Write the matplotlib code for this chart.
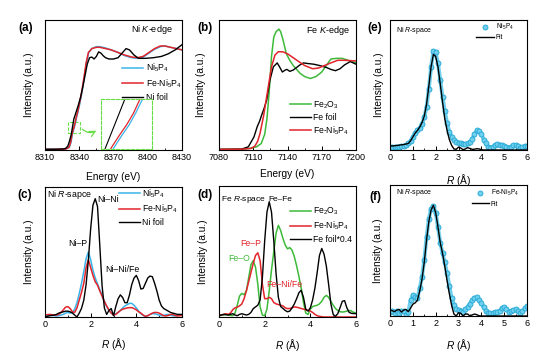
import numpy as np
import matplotlib
matplotlib.use("Agg")
import matplotlib.pyplot as plt
from matplotlib.patches import Rectangle
from matplotlib.ticker import MultipleLocator

plt.rcParams['font.family'] = ['Liberation Sans', 'DejaVu Sans']
plt.rcParams['mathtext.fontset'] = 'custom'
plt.rcParams['mathtext.rm'] = 'Liberation Sans'
plt.rcParams['mathtext.it'] = 'Liberation Sans:italic'

# === colours ===
BLUE = '#39b4ea'
RED = '#e2242b'
GREEN = '#3dba3a'
CYAN_FACE = '#6fd0ee'
CYAN_EDGE = '#22a6d4'

# === (a) Ni K-edge XANES ===
E_nifoil = [8310, 8320, 8326, 8328, 8330, 8331.5, 8333, 8335.3, 8337, 8339, 8341, 8343, 8345, 8347, 8349,
            8351, 8353, 8355, 8357, 8359, 8361, 8363, 8366, 8370, 8374, 8378, 8381, 8384, 8388, 8392,
            8398, 8405, 8412, 8418, 8424, 8430]
I_nifoil = [0.005, 0.006, 0.008, 0.012, 0.03, 0.07, 0.12, 0.24, 0.285, 0.34, 0.40, 0.48, 0.57, 0.66, 0.71,
            0.715, 0.70, 0.72, 0.755, 0.745, 0.725, 0.71, 0.70, 0.70, 0.71, 0.75, 0.78, 0.77, 0.73, 0.705,
            0.705, 0.71, 0.72, 0.74, 0.77, 0.81]
E_feni_a = [8310, 8320, 8328, 8331, 8332.5, 8333.7, 8334.7, 8335.5, 8336.3, 8337.1, 8338.5, 8340, 8342, 8344,
            8346, 8348, 8351, 8355, 8358, 8363, 8368, 8374, 8380, 8386, 8391, 8396, 8401, 8406, 8411, 8415,
            8420, 8425, 8430]
I_feni_a = [0.005, 0.005, 0.007, 0.02, 0.06, 0.122, 0.154, 0.178, 0.206, 0.242, 0.29, 0.35, 0.44, 0.55,
            0.67, 0.75, 0.78, 0.79, 0.79, 0.78, 0.77, 0.75, 0.73, 0.715, 0.71, 0.72, 0.75, 0.78, 0.80, 0.80,
            0.79, 0.78, 0.77]
E_ni5p4_a = [8310, 8320, 8328, 8331.3, 8332.8, 8334.0, 8335.0, 8335.8, 8336.55, 8337.4, 8338.8, 8340.3, 8342.3,
             8344.3, 8346.3, 8348.3, 8351, 8355, 8358, 8363, 8368, 8374, 8380, 8386, 8391, 8396, 8401, 8406,
             8411, 8415, 8420, 8425, 8430]
I_ni5p4_a = [0.005, 0.005, 0.007, 0.02, 0.06, 0.122, 0.154, 0.178, 0.206, 0.242, 0.29, 0.35, 0.44, 0.55,
             0.67, 0.75, 0.78, 0.795, 0.795, 0.785, 0.77, 0.75, 0.725, 0.71, 0.705, 0.715, 0.745, 0.775,
             0.795, 0.80, 0.79, 0.78, 0.77]

# === (b) Fe K-edge XANES ===
E_fe2o3 = [7080, 7100, 7107, 7113, 7117, 7120, 7122, 7124, 7126, 7128, 7130, 7132.5, 7134, 7136, 7139,
           7142, 7145, 7148, 7151, 7155, 7160, 7165, 7170, 7174, 7178, 7183, 7188, 7193, 7200]
I_fe2o3 = [0.005, 0.006, 0.013, 0.025, 0.05, 0.12, 0.24, 0.45, 0.72, 0.87, 0.91, 0.93, 0.91, 0.85, 0.74,
           0.69, 0.65, 0.62, 0.59, 0.565, 0.55, 0.565, 0.60, 0.65, 0.70, 0.705, 0.705, 0.69, 0.67]
E_fefoil = [7080, 7100, 7105.7, 7108, 7110.6, 7113.5, 7115.5, 7117.4, 7119.5, 7121.8, 7124.7, 7127.6, 7131,
            7133, 7135.5, 7138, 7139.5, 7142, 7145, 7148, 7151, 7154, 7158, 7163, 7168, 7174, 7178, 7182,
            7186, 7190, 7195, 7200]
I_fefoil = [0.005, 0.007, 0.025, 0.06, 0.10, 0.18, 0.22, 0.27, 0.32, 0.385, 0.54, 0.64, 0.67,
            0.64, 0.60, 0.615, 0.62, 0.605, 0.615, 0.635, 0.655, 0.67, 0.665, 0.66, 0.65, 0.635, 0.62, 0.61,
            0.625, 0.655, 0.68, 0.66]
E_feni_b = [7080, 7100, 7108, 7111.5, 7114, 7116, 7119, 7122.3, 7126, 7129, 7132, 7136, 7140, 7145, 7149,
            7155, 7162, 7167, 7172.5, 7178, 7184, 7190, 7200]
I_feni_b = [0.005, 0.006, 0.012, 0.03, 0.07, 0.13, 0.26, 0.44, 0.64, 0.73, 0.756, 0.755, 0.74, 0.71, 0.685,
            0.65, 0.625, 0.63, 0.65, 0.67, 0.69, 0.69, 0.685]

# === R-space, common R grid (Å) ===
R = [round(0.1 * i, 1) for i in range(61)]

# (c) Ni R-space
c_ni5p4 = [0.01, 0.01, 0.012, 0.012, 0.01, 0.008, 0.01, 0.015, 0.02, 0.03,
           0.035, 0.03, 0.035, 0.06, 0.11, 0.18, 0.26, 0.35, 0.45, 0.50,
           0.44, 0.36, 0.30, 0.255, 0.21, 0.17, 0.12, 0.08, 0.05, 0.03,
           0.02, 0.025, 0.035, 0.05, 0.07, 0.085, 0.095, 0.105, 0.105, 0.09,
           0.07, 0.045, 0.025, 0.012, 0.005, 0.01, 0.02, 0.025, 0.025, 0.02,
           0.015, 0.01, 0.012, 0.018, 0.02, 0.015, 0.01, 0.008, 0.012, 0.015, 0.015]
c_feni = [0.015, 0.018, 0.02, 0.018, 0.015, 0.015, 0.02, 0.035, 0.055, 0.075,
          0.08, 0.065, 0.04, 0.035, 0.07, 0.13, 0.19, 0.26, 0.38, 0.44,
          0.38, 0.32, 0.27, 0.245, 0.20, 0.16, 0.12, 0.085, 0.055, 0.03,
          0.015, 0.02, 0.035, 0.05, 0.06, 0.065, 0.07, 0.072, 0.072, 0.065,
          0.055, 0.04, 0.03, 0.015, 0.005, 0.01, 0.02, 0.03, 0.035, 0.035,
          0.03, 0.02, 0.01, 0.008, 0.012, 0.02, 0.02, 0.012, 0.008, 0.01, 0.012]
c_nifoil = [0.0, 0.005, 0.01, 0.012, 0.015, 0.02, 0.03, 0.035, 0.04, 0.045,
            0.045, 0.04, 0.03, 0.015, 0.0, 0.03, 0.067, 0.13, 0.25, 0.44,
            0.68, 0.86, 0.91, 0.85, 0.55, 0.24, 0.07, 0.02, 0.05, 0.065,
            0.01, 0.08, 0.14, 0.17, 0.15, 0.11, 0.11, 0.17, 0.25, 0.30,
            0.32, 0.28, 0.215, 0.22, 0.26, 0.30, 0.315, 0.31, 0.26, 0.20,
            0.13, 0.085, 0.065, 0.055, 0.045, 0.035, 0.03, 0.025, 0.02, 0.02, 0.02]

# (d) Fe R-space
d_fe2o3 = [0.01, 0.012, 0.015, 0.02, 0.015, 0.012, 0.01, 0.03, 0.09, 0.16,
           0.18, 0.17, 0.20, 0.30, 0.40, 0.43, 0.38, 0.25, 0.077, 0.015,
           0.01, 0.06, 0.20, 0.36, 0.50, 0.64, 0.70, 0.66, 0.60, 0.55,
           0.52, 0.53, 0.51, 0.46, 0.39, 0.31, 0.22, 0.11, 0.03, 0.02,
           0.06, 0.08, 0.085, 0.09, 0.10, 0.12, 0.15, 0.165, 0.15, 0.12,
           0.09, 0.065, 0.05, 0.04, 0.038, 0.04, 0.045, 0.05, 0.045, 0.035, 0.03]
d_feni = [0.013, 0.015, 0.02, 0.025, 0.02, 0.03, 0.055, 0.07, 0.075, 0.085,
          0.10, 0.14, 0.20, 0.27, 0.34, 0.41, 0.47, 0.49, 0.43, 0.25,
          0.14, 0.14, 0.15, 0.14, 0.11, 0.10, 0.095, 0.09, 0.085, 0.07,
          0.064, 0.065, 0.07, 0.077, 0.075, 0.07, 0.065, 0.06, 0.055, 0.05,
          0.045, 0.035, 0.02, 0.01, 0.005, 0.002, 0.0, 0.0, 0.0, 0.0,
          0.0, 0.0, 0.0, 0.0, 0.0, 0.0, 0.0, 0.0, 0.0, 0.0, 0.0]
d_fefoil = [0.013, 0.015, 0.02, 0.018, 0.015, 0.02, 0.025, 0.015, 0.01, 0.02,
            0.025, 0.02, 0.015, 0.02, 0.035, 0.064, 0.077, 0.09, 0.13, 0.30,
            0.58, 0.80, 0.88, 0.80, 0.58, 0.33, 0.15, 0.08, 0.065, 0.05,
            0.04, 0.045, 0.07, 0.10, 0.14, 0.185, 0.204, 0.15, 0.06, 0.045,
            0.07, 0.13, 0.22, 0.34, 0.47, 0.523, 0.48, 0.39, 0.25, 0.10,
            0.02, 0.005, 0.025, 0.07, 0.12, 0.125, 0.07, 0.035, 0.028, 0.026, 0.026]

# (e) Ni5P4 fit, (f) Fe-Ni5P4 fit
e_data = [0.02, 0.02, 0.02, 0.022, 0.025, 0.027, 0.03, 0.038, 0.05, 0.07,
          0.10, 0.13, 0.15, 0.17, 0.20, 0.25, 0.33, 0.47, 0.64, 0.76,
          0.75, 0.67, 0.54, 0.41, 0.30, 0.21, 0.14, 0.10, 0.08, 0.065,
          0.056, 0.05, 0.043, 0.045, 0.05, 0.06, 0.085, 0.12, 0.15, 0.145,
          0.125, 0.08, 0.05, 0.025, 0.018, 0.025, 0.035, 0.043, 0.042, 0.035,
          0.028, 0.02, 0.018, 0.025, 0.035, 0.038, 0.03, 0.018, 0.02, 0.028, 0.03]
e_fit = [0.03, 0.031, 0.033, 0.035, 0.037, 0.04, 0.042, 0.046, 0.05, 0.07,
         0.10, 0.13, 0.15, 0.175, 0.21, 0.26, 0.35, 0.49, 0.64, 0.735,
         0.72, 0.64, 0.51, 0.37, 0.24, 0.15, 0.08, 0.035, 0.008, 0.005,
         0.022, 0.015, 0.002, 0.008, 0.018, 0.012, 0.005, 0.006, 0.01, 0.008,
         0.003, 0.0, 0.0, 0.0, 0.0, 0.0, 0.0, 0.0, 0.0, 0.0,
         0.0, 0.0, 0.0, 0.0, 0.0, 0.0, 0.0, 0.0, 0.0, 0.0, 0.0]
f_data = [0.03, 0.04, 0.025, 0.04, 0.02, 0.035, 0.04, 0.01, 0.03, 0.12,
          0.16, 0.145, 0.14, 0.21, 0.30, 0.43, 0.60, 0.74, 0.82, 0.84,
          0.79, 0.68, 0.56, 0.48, 0.41, 0.325, 0.23, 0.14, 0.084, 0.055,
          0.046, 0.038, 0.033, 0.05, 0.07, 0.095, 0.12, 0.14, 0.142, 0.125,
          0.10, 0.065, 0.04, 0.025, 0.02, 0.02, 0.03, 0.033, 0.04, 0.06,
          0.066, 0.05, 0.033, 0.035, 0.046, 0.05, 0.035, 0.02, 0.035, 0.06, 0.076]
f_fit = [0.046, 0.04, 0.033, 0.045, 0.05, 0.03, 0.045, 0.05, 0.033, 0.06,
         0.09, 0.10, 0.12, 0.19, 0.28, 0.41, 0.58, 0.72, 0.81, 0.845,
         0.79, 0.68, 0.56, 0.48, 0.38, 0.27, 0.17, 0.08, 0.015, 0.0,
         0.025, 0.02, 0.0, 0.015, 0.015, 0.0, 0.008, 0.015, 0.01, 0.002,
         0.0, 0.0, 0.0, 0.0, 0.0, 0.0, 0.0, 0.0, 0.0, 0.0,
         0.0, 0.0, 0.0, 0.0, 0.0, 0.0, 0.0, 0.0, 0.0, 0.0, 0.0]

W, H = 554, 363
fig = plt.figure(figsize=(W / 100, H / 100), dpi=100)


def px_rect(l, t, r, b):
    return [l / W, 1 - b / H, (r - l) / W, (b - t) / H]


def setup(ax, xlim, major, minor, xlabel, xlab_y, ylab_x):
    ax.set_xlim(*xlim)
    ax.set_ylim(0, 1)
    ax.xaxis.set_major_locator(MultipleLocator(major))
    ax.xaxis.set_minor_locator(MultipleLocator(minor))
    ax.set_yticks([])
    ax.tick_params(axis='x', which='major', direction='in', length=3, width=0.7, labelsize=6.5, pad=2.5)
    ax.tick_params(axis='x', which='minor', direction='in', length=1.6, width=0.6)
    for s in ax.spines.values():
        s.set_linewidth(0.8)
    ax.set_xlabel(xlabel, fontsize=7.3)
    ax.xaxis.set_label_coords(0.5, xlab_y)
    ax.set_ylabel('Intensity (a.u.)', fontsize=7.3)
    ax.yaxis.set_label_coords(ylab_x, 0.5)


RLABEL = r'$\mathit{R}$ (Å)'
NI5P4 = r'Ni$_5$P$_4$'
FENI = r'Fe-Ni$_5$P$_4$'

# ---------- (a) ----------
ax = fig.add_axes(px_rect(45, 20, 182, 150))
ax.plot(E_ni5p4_a, I_ni5p4_a, color=BLUE, lw=1.1, label=NI5P4)
ax.plot(E_feni_a, I_feni_a, color=RED, lw=1.1, label=FENI)
ax.plot(E_nifoil, I_nifoil, color='black', lw=1.0, label='Ni foil')
setup(ax, (8310, 8430), 30, 15, 'Energy (eV)', -0.17, -0.08)
ax.text(0.93, 0.93, r'Ni $\mathit{K}$-edge', transform=ax.transAxes, ha='right', va='center', fontsize=6.5)
ax.legend(loc='upper left', bbox_to_anchor=(0.565, 0.68), frameon=False, fontsize=6.2,
          handlelength=2.4, handletextpad=0.3, labelspacing=0.35, borderpad=0, borderaxespad=0)
ax.add_patch(Rectangle((8330, 0.133), 10.6, 0.085, fill=False, ec='#66dd44', lw=0.8, ls=(0, (3, 1.5))))
ax.annotate('', xy=(8357, 0.16), xytext=(8341, 0.175),
            arrowprops=dict(arrowstyle='->', color='#66dd44', lw=0.9, connectionstyle='arc3,rad=0.45'))
axi = fig.add_axes(px_rect(100.7, 99.3, 152.3, 149))
axi.plot(E_ni5p4_a, I_ni5p4_a, color=BLUE, lw=0.9)
axi.plot(E_feni_a, I_feni_a, color=RED, lw=0.9)
axi.plot(E_nifoil, I_nifoil, color='black', lw=0.8)
axi.set_xlim(8332.5, 8338.5)
axi.set_ylim(0.12, 0.24)
axi.set_xticks([])
axi.set_yticks([])
for s in axi.spines.values():
    s.set_edgecolor('#66dd44')
    s.set_linewidth(0.8)
    s.set_linestyle((0, (3, 1.5)))

# ---------- (b) ----------
ax = fig.add_axes(px_rect(219, 20, 356, 150))
ax.plot(E_fe2o3, I_fe2o3, color=GREEN, lw=1.1, label=r'Fe$_2$O$_3$')
ax.plot(E_fefoil, I_fefoil, color='black', lw=1.0, label='Fe foil')
ax.plot(E_feni_b, I_feni_b, color=RED, lw=1.1, label=FENI)
setup(ax, (7080, 7200), 30, 15, 'Energy (eV)', -0.146, -0.095)
ax.text(0.956, 0.923, r'Fe $\mathit{K}$-edge', transform=ax.transAxes, ha='right', va='center', fontsize=6.5)
ax.legend(loc='upper left', bbox_to_anchor=(0.52, 0.39), frameon=False, fontsize=6.2,
          handlelength=2.4, handletextpad=0.3, labelspacing=0.25, borderpad=0, borderaxespad=0)

# ---------- (e) ----------
ax = fig.add_axes(px_rect(390, 20, 527, 150))
ax.plot(R, e_data, color=CYAN_FACE, lw=2.8, zorder=1)
ax.plot(R, e_data, ls='none', marker='o', ms=3.6, mfc=CYAN_FACE, mec=CYAN_EDGE, mew=0.6, label=NI5P4, zorder=2)
ax.plot(R, e_fit, color='black', lw=1.0, label='Fit', zorder=3)
setup(ax, (0, 6), 1, 0.5, RLABEL, -0.17, -0.045)
ax.text(0.044, 0.918, r'Ni $\mathit{R}$-space', transform=ax.transAxes, va='center', fontsize=5)
ax.legend(loc='upper left', bbox_to_anchor=(0.63, 0.985), frameon=False, fontsize=4.8, numpoints=1,
          handlelength=2.6, handletextpad=0.3, labelspacing=0.35, borderpad=0, borderaxespad=0)

# ---------- (c) ----------
ax = fig.add_axes(px_rect(45, 187, 182, 317))
ax.plot(R, c_ni5p4, color=BLUE, lw=1.1, label=NI5P4)
ax.plot(R, c_feni, color=RED, lw=1.1, label=FENI)
ax.plot(R, c_nifoil, color='black', lw=1.0, label='Ni foil')
setup(ax, (0, 6), 2, 1, RLABEL, -0.146, -0.08)
ax.text(0.017, 0.946, r'Ni $\mathit{R}$-sapce', transform=ax.transAxes, va='center', fontsize=6.3)
ax.text(0.385, 0.905, 'Ni–Ni', transform=ax.transAxes, va='center', fontsize=6.3)
ax.text(0.17, 0.567, 'Ni–P', transform=ax.transAxes, va='center', fontsize=6.3)
ax.text(0.438, 0.367, 'Ni–Ni/Fe', transform=ax.transAxes, va='center', fontsize=6.3)
ax.legend(loc='upper left', bbox_to_anchor=(0.54, 1.0), frameon=False, fontsize=6.2,
          handlelength=2.4, handletextpad=0.3, labelspacing=0.35, borderpad=0, borderaxespad=0)

# ---------- (d) ----------
ax = fig.add_axes(px_rect(219, 186, 356, 317))
ax.plot(R, d_fe2o3, color=GREEN, lw=1.1, label=r'Fe$_2$O$_3$')
ax.plot(R, d_feni, color=RED, lw=1.1, label=FENI)
ax.plot(R, d_fefoil, color='black', lw=1.0, label='Fe foil*0.4')
setup(ax, (0, 6), 2, 1, RLABEL, -0.155, -0.08)
ax.text(0.015, 0.9, r'Fe $\mathit{R}$-space', transform=ax.transAxes, va='center', fontsize=6.0)
ax.text(0.36, 0.9, 'Fe–Fe', transform=ax.transAxes, va='center', fontsize=6.0)
ax.text(0.158, 0.563, 'Fe–P', transform=ax.transAxes, va='center', fontsize=6.3, color=RED)
ax.text(0.068, 0.443, 'Fe–O', transform=ax.transAxes, va='center', fontsize=6.3, color=GREEN)
ax.text(0.348, 0.25, 'Fe–Ni/Fe', transform=ax.transAxes, va='center', fontsize=6.3, color=RED)
ax.legend(loc='upper left', bbox_to_anchor=(0.52, 0.85), frameon=False, fontsize=6.2,
          handlelength=2.4, handletextpad=0.3, labelspacing=0.3, borderpad=0, borderaxespad=0)

# ---------- (f) ----------
ax = fig.add_axes(px_rect(390, 185, 527, 316))
ax.plot(R, f_data, color=CYAN_FACE, lw=2.8, zorder=1)
ax.plot(R, f_data, ls='none', marker='o', ms=3.6, mfc=CYAN_FACE, mec=CYAN_EDGE, mew=0.6, label=FENI, zorder=2)
ax.plot(R, f_fit, color='black', lw=1.0, label='Fit', zorder=3)
setup(ax, (0, 6), 1, 0.5, RLABEL, -0.16, -0.05)
ax.text(0.044, 0.94, r'Ni $\mathit{R}$-space', transform=ax.transAxes, va='center', fontsize=5)
ax.legend(loc='upper left', bbox_to_anchor=(0.595, 0.975), frameon=False, fontsize=4.8, numpoints=1,
          handlelength=2.6, handletextpad=0.3, labelspacing=0.35, borderpad=0, borderaxespad=0)

# ---------- panel labels ----------
for lab, x, y in [('(a)', 26, 28), ('(b)', 205, 28), ('(e)', 375, 28),
                  ('(c)', 25, 195), ('(d)', 205, 195), ('(f)', 375, 197)]:
    fig.text(x / W, 1 - y / H, lab, ha='center', va='center', fontsize=8.5, fontweight='bold')

fig.savefig('out.png', dpi=100)
